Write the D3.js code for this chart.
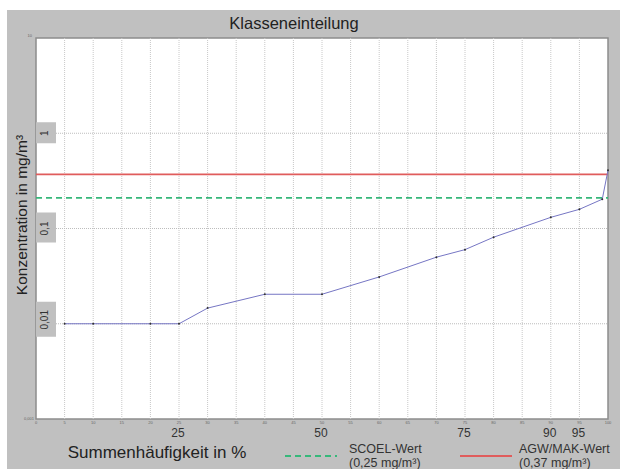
<!DOCTYPE html>
<html>
<head>
<meta charset="utf-8">
<script src="https://cdn.jsdelivr.net/npm/d3@7"></script>
<style>
  body { margin: 0; background: #fff; }
  text { font-family: "Liberation Sans", Arial, sans-serif; }
</style>
</head>
<body>
<svg id="chart" width="622" height="469"></svg>
<script>
// cumulative frequency (%) and concentration (mg/m³)
var percent = [5, 10, 20, 25, 30, 40, 50, 60, 70, 75, 80, 90, 95, 99, 100];
var concentration = [0.01, 0.01, 0.01, 0.01, 0.0146, 0.0204, 0.0204, 0.031, 0.05, 0.06, 0.081, 0.131, 0.159, 0.203, 0.41];

var xTicks = [0, 5, 10, 15, 20, 25, 30, 35, 40, 45, 50, 55, 60, 65, 70, 75, 80, 85, 90, 95, 100];
var xBigLabels = [25, 50, 75, 90, 95];
var yTicks = [1, 0.1, 0.01];
var yTickLabels = ["1", "0,1", "0,01"];

var scoelValue = 0.21;
var agwValue = 0.37;

(function() {
  var margins = { top: 38, left: 36, right: 14, bottom: 50 };
  var width = 622, height = 469;

  var svg = d3.select("#chart");

  // grey background
  svg.append("rect")
    .attr("x", 7).attr("y", 10)
    .attr("width", width - 9).attr("height", height - 10)
    .attr("fill", "#c0c0c0");

  var x = d3.scaleLinear().domain([0, 100]).range([margins.left, width - margins.right]);
  var y = d3.scaleLog().domain([0.001, 10]).range([height - margins.bottom, margins.top]);

  // plot area
  svg.append("rect")
    .attr("x", x(0)).attr("y", y(10))
    .attr("width", x(100) - x(0)).attr("height", y(0.001) - y(10))
    .attr("fill", "#fff")
    .attr("stroke", "#8c8c8c")
    .attr("stroke-width", 1.5);

  // vertical grid
  svg.append("g").selectAll("line")
    .data(xTicks.slice(1, -1))
    .enter().append("line")
    .attr("x1", function(d) { return x(d); })
    .attr("x2", function(d) { return x(d); })
    .attr("y1", y(10)).attr("y2", y(0.001))
    .attr("stroke", "#c8c8c8")
    .attr("stroke-dasharray", "1,1");

  // horizontal grid
  svg.append("g").selectAll("line")
    .data(yTicks)
    .enter().append("line")
    .attr("x1", x(0)).attr("x2", x(100))
    .attr("y1", function(d) { return y(d); })
    .attr("y2", function(d) { return y(d); })
    .attr("stroke", "#bdbdbd")
    .attr("stroke-dasharray", "1,1");

  // y label tabs
  var tabs = svg.append("g").selectAll("g")
    .data(yTicks)
    .enter().append("g")
    .attr("transform", function(d) { return "translate(" + (x(0) + 10) + "," + y(d) + ")"; });

  tabs.append("rect")
    .attr("x", -10).attr("width", 20)
    .attr("y", function(d, i) { return [-11, -16, -22][i]; })
    .attr("height", function(d, i) { return [21, 30, 35][i]; })
    .attr("fill", "#c0c0c0");

  tabs.append("text")
    .attr("transform", "rotate(-90)")
    .attr("text-anchor", "middle")
    .attr("dy", "0.35em")
    .attr("y", -2)
    .attr("x", function(d, i) { return [0, 0, 4][i]; })
    .attr("font-size", 10)
    .attr("fill", "#333")
    .text(function(d, i) { return yTickLabels[i]; });

  // tiny y end labels
  svg.append("text").attr("x", x(0) - 4).attr("y", y(10) - 1)
    .attr("font-size", 4).attr("fill", "#666").attr("text-anchor", "end").text("10");
  svg.append("text").attr("x", x(0) - 2).attr("y", y(0.001) + 1)
    .attr("font-size", 4).attr("fill", "#666").attr("text-anchor", "end").text("0,001");

  // tiny x tick labels
  svg.append("g").selectAll("text")
    .data(xTicks)
    .enter().append("text")
    .attr("x", function(d) { return x(d); })
    .attr("y", y(0.001) + 5)
    .attr("text-anchor", "middle")
    .attr("font-size", 4)
    .attr("fill", "#666")
    .text(function(d) { return d; });

  // big x labels
  svg.append("g").selectAll("text")
    .data(xBigLabels)
    .enter().append("text")
    .attr("x", function(d) { return x(d) - 1; })
    .attr("y", height - 32)
    .attr("text-anchor", "middle")
    .attr("font-size", 12)
    .attr("fill", "#333")
    .text(function(d) { return d; });

  // limit lines
  svg.append("line")
    .attr("x1", x(0)).attr("x2", x(100))
    .attr("y1", y(agwValue)).attr("y2", y(agwValue))
    .attr("stroke", "#e05c5c").attr("stroke-width", 1.8);

  svg.append("line")
    .attr("x1", x(0)).attr("x2", x(100))
    .attr("y1", y(scoelValue)).attr("y2", y(scoelValue))
    .attr("stroke", "#36b87a").attr("stroke-width", 1.8)
    .attr("stroke-dasharray", "6,4");

  // data line
  var line = d3.line()
    .x(function(d, i) { return x(percent[i]); })
    .y(function(d) { return y(d); });

  svg.append("path")
    .datum(concentration)
    .attr("d", line)
    .attr("fill", "none")
    .attr("stroke", "#7676c4")
    .attr("stroke-width", 1);

  svg.append("g").selectAll("circle")
    .data(concentration)
    .enter().append("circle")
    .attr("cx", function(d, i) { return x(percent[i]); })
    .attr("cy", function(d) { return y(d); })
    .attr("r", 1)
    .attr("fill", "#333");

  // titles
  svg.append("text")
    .attr("x", 294).attr("y", 29)
    .attr("text-anchor", "middle")
    .attr("font-size", 16.5)
    .attr("fill", "#222")
    .text("Klasseneinteilung");

  svg.append("text")
    .attr("transform", "translate(27,215) rotate(-90)")
    .attr("text-anchor", "middle")
    .attr("font-size", 15.5)
    .attr("fill", "#222")
    .text("Konzentration in mg/m³");

  svg.append("text")
    .attr("x", 157).attr("y", 458)
    .attr("text-anchor", "middle")
    .attr("font-size", 17)
    .attr("fill", "#222")
    .text("Summenhäufigkeit in %");

  // legend
  var legend = [
    { x: 285, name: "SCOEL-Wert", value: "(0,25 mg/m³)", color: "#36b87a", dash: "6,4" },
    { x: 460, name: "AGW/MAK-Wert", value: "(0,37 mg/m³)", color: "#e05c5c", dash: null }
  ];

  var items = svg.append("g").selectAll("g")
    .data(legend)
    .enter().append("g")
    .attr("transform", function(d) { return "translate(" + d.x + ",456)"; });

  items.append("line")
    .attr("x1", 0).attr("x2", 52)
    .attr("stroke", function(d) { return d.color; })
    .attr("stroke-width", 1.8)
    .attr("stroke-dasharray", function(d) { return d.dash; });

  items.append("text")
    .attr("x", function(d, i) { return i ? 59 : 64; })
    .attr("y", -3)
    .attr("font-size", 12.5)
    .attr("fill", "#333")
    .text(function(d) { return d.name; });

  items.append("text")
    .attr("x", function(d, i) { return i ? 59 : 64; })
    .attr("y", 11)
    .attr("font-size", 12.5)
    .attr("fill", "#333")
    .text(function(d) { return d.value; });
}());
</script>
</body>
</html>
